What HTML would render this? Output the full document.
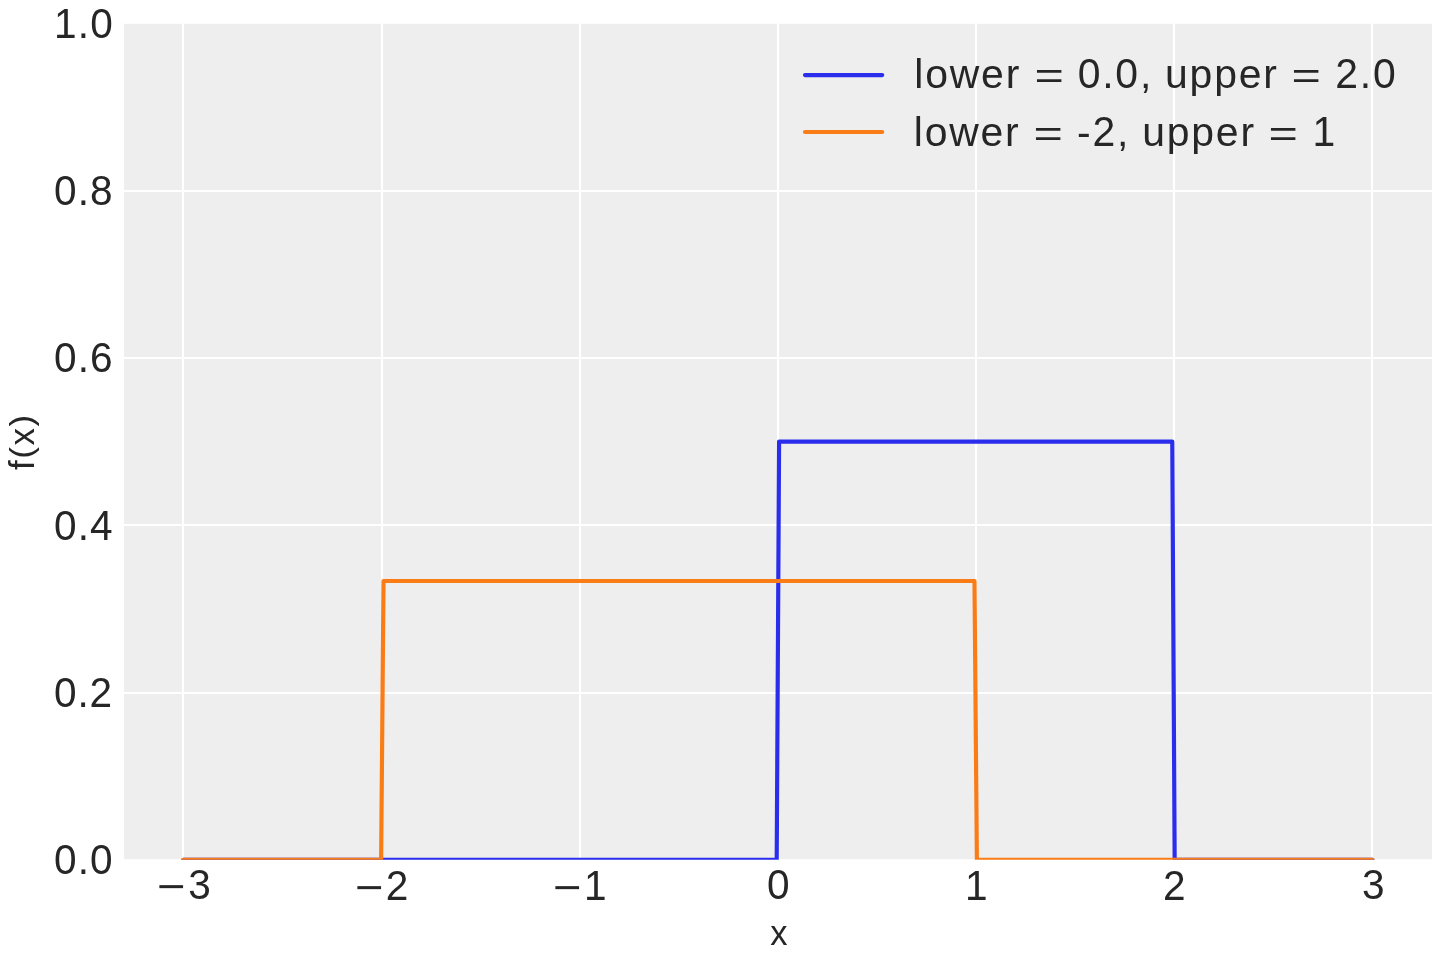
<!DOCTYPE html>
<html lang="en">
<head>
<meta charset="utf-8">
<title>Uniform distribution pdf</title>
<style>
  html, body { margin: 0; padding: 0; background: #ffffff; }
  body { width: 1440px; height: 960px; position: relative; overflow: hidden;
         font-family: "Liberation Sans", sans-serif; color: #262626; }
  #plot { position: absolute; left: 0; top: 0; width: 1440px; height: 960px; display: block; }
  .t { position: absolute; white-space: pre; line-height: 1; margin: 0; padding: 0;
       font-family: "Liberation Sans", sans-serif; color: #262626; }
  .yt, .xt { font-size: 42.5px; transform-origin: 0 0; transform: scaleX(0.955); }
  .lg { font-size: 40.9px; letter-spacing: 1.81px; word-spacing: -1.22px; }
  .xl { font-size: 34.5px; }
  .yl { font-size: 34.8px; letter-spacing: 1.6px; transform-origin: 0 29px; transform: rotate(-90deg); }
  #labels { position: absolute; left: 0; top: 0; width: 1440px; height: 960px; will-change: transform; }
  .pr { display: inline-block; transform-origin: 50% 3.8px; transform: scaleY(0.917); }
  .mn { display: inline-block; transform: translate(1px, 1.6px) scaleX(1.2); }
  .d { display: inline-block; transform-origin: 50% 34px; transform: scaleY(1.04); }
  .eq { display: inline-block; margin: 0 3.48px; transform-origin: 50% 20.5px; transform: translate(0.5px, 1.3px) scale(1.23, 0.92); }
</style>
</head>
<body>
<svg id="plot" width="1440" height="960" viewBox="0 0 1440 960">
  <defs>
    <clipPath id="ax"><rect x="123.9" y="23.3" width="1308.0" height="836.5"/></clipPath>
  </defs>
  <rect x="123.9" y="23.3" width="1308.0" height="836.5" fill="#eeeeee"/>
  <g stroke="#ffffff" stroke-width="2.2" fill="none" clip-path="url(#ax)">
    <path d="M183 0V960 M382 0V960 M580 0V960 M778 0V960 M976 0V960 M1174 0V960 M1372 0V960"/>
    <path d="M0 860H1440 M0 693H1440 M0 525H1440 M0 358H1440 M0 191H1440 M0 23H1440"/>
  </g>
  <g fill="none" stroke-width="4.17" stroke-linecap="round" stroke-linejoin="round" clip-path="url(#ax)">
    <path stroke="#2a2eec" d="M183.35 859.80 L776.71 859.80 L779.09 441.55 L1172.28 441.55 L1174.66 859.80 L1372.45 859.80"/>
    <path stroke="#fa7c17" d="M183.35 859.80 L381.14 859.80 L383.52 580.97 L974.49 580.97 L976.88 859.80 L1372.45 859.80"/>
  </g>
  <g fill="none" stroke-width="4.17" stroke-linecap="round">
    <path stroke="#2a2eec" d="M805 75.05H882.2"/>
    <path stroke="#fa7c17" d="M805 132H882.2"/>
  </g>
</svg>
<div id="labels">
<div class="t yt" style="left:54.23px;top:3px;letter-spacing:1.29px;">1.0</div>
<div class="t yt" style="left:54.40px;top:170px;letter-spacing:1.18px;">0.8</div>
<div class="t yt" style="left:54.40px;top:337px;letter-spacing:1.18px;">0.6</div>
<div class="t yt" style="left:54.40px;top:505px;letter-spacing:1.18px;">0.4</div>
<div class="t yt" style="left:54.49px;top:672px;letter-spacing:0.91px;">0.2</div>
<div class="t yt" style="left:54.40px;top:839px;letter-spacing:1.18px;">0.0</div>
<div class="t xt" style="left:159.12px;top:864px;letter-spacing:5.84px;"><span class="mn">−</span>3</div>
<div class="t xt" style="left:357.30px;top:865px;letter-spacing:5.25px;"><span class="mn">−</span>2</div>
<div class="t xt" style="left:555.49px;top:865px;letter-spacing:5.57px;"><span class="mn">−</span>1</div>
<div class="t xt" style="left:766.60px;top:864px;">0</div>
<div class="t xt" style="left:964.58px;top:865px;">1</div>
<div class="t xt" style="left:1163.46px;top:865px;">2</div>
<div class="t xt" style="left:1362.20px;top:864px;">3</div>
<div class="t xl" style="left:770.32px;top:916px;">x</div>
<div class="t lg" style="left:914.33px;top:54px;">lower <span class="eq">=</span> <span class="d">0.0</span>, upper <span class="eq">=</span> <span class="d">2.0</span></div>
<div class="t lg" style="left:913.79px;top:112px;">lower <span class="eq">=</span> -<span class="d">2</span>, upper <span class="eq">=</span> <span class="d">1</span></div>
<div class="t yl" style="left:34px;top:441.24px;">f<span class="pr">(</span>x<span class="pr">)</span></div>
</div>
</body>
</html>
